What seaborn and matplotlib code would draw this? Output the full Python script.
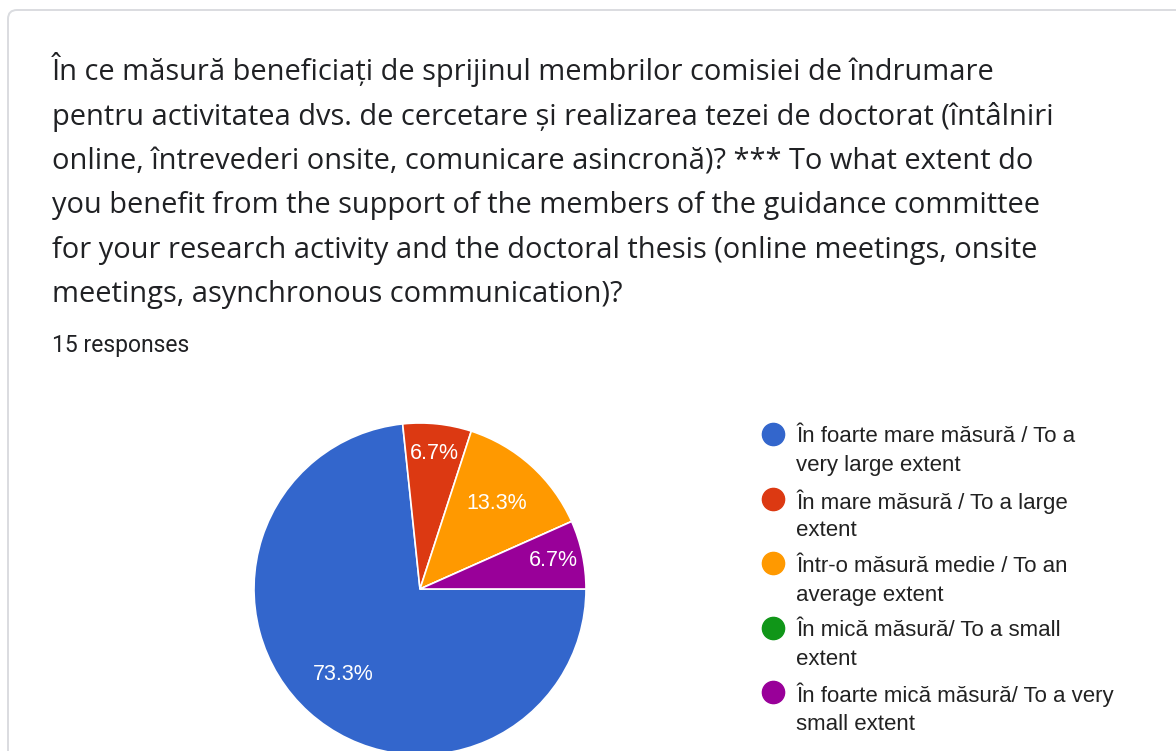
import matplotlib
matplotlib.use('Agg')
import matplotlib.pyplot as plt
import seaborn as sns
import numpy as np
from matplotlib.patches import FancyBboxPatch
from matplotlib.lines import Line2D
from matplotlib.transforms import IdentityTransform

# Date
title_lines = [
    'În ce măsură beneficiați de sprijinul membrilor comisiei de îndrumare',
    'pentru activitatea dvs. de cercetare și realizarea tezei de doctorat (întâlniri',
    'online, întrevederi onsite, comunicare asincronă)? *** To what extent do',
    'you benefit from the support of the members of the guidance committee',
    'for your research activity and the doctoral thesis (online meetings, onsite',
    'meetings, asynchronous communication)?',
]
responses_text = '15 responses'
categories = [
    'În foarte mare măsură / To a\nvery large extent',
    'În mare măsură / To a large\nextent',
    'Într-o măsură medie / To an\naverage extent',
    'În mică măsură/ To a small\nextent',
    'În foarte mică măsură/ To a very\nsmall extent',
]
counts = [11, 1, 2, 0, 1]
colors = ['#3366CC', '#DC3912', '#FF9900', '#109618', '#990099']

sns.set_theme(style='white')
plt.rcParams['font.family'] = ['Liberation Sans', 'DejaVu Sans']

W, H = 1176, 751
fig = plt.figure(figsize=(W / 100, H / 100), dpi=100)
fig.patch.set_facecolor('white')

# Card
card = FancyBboxPatch((8, -40), 1200, H - 10 + 40,
                      boxstyle='round,pad=0,rounding_size=9',
                      transform=IdentityTransform(), facecolor='white',
                      edgecolor='#dadce0', linewidth=1.4, zorder=-5)
fig.add_artist(card)

# Titlu
for i, line in enumerate(title_lines):
    fig.text(52 / W, 1 - (80 + i * 44.5) / H, line, fontsize=20.9,
             family=['Open Sans', 'DejaVu Sans'], color='#202124', va='baseline')
fig.text(52 / W, 1 - 352 / H, responses_text, fontsize=16.5,
         family=['Roboto', 'DejaVu Sans'], color='#202124', va='baseline')

# Plăcinta
cx, cy, r = 420, 589, 166
ax = fig.add_axes([(cx - r) / W, (H - cy - r) / H, 2 * r / W, 2 * r / H])
pal = sns.color_palette(colors)
total = sum(counts)
wedges, texts, autotexts = ax.pie(
    counts, colors=pal, startangle=0, counterclock=False,
    autopct=lambda p: f'{p:.1f}%' if p > 0 else '', pctdistance=0.69,
    wedgeprops=dict(edgecolor='white', linewidth=1.2),
    textprops=dict(color='white', fontsize=15.5))
for w, t, c in zip(wedges, autotexts, counts):
    if c == 0:
        continue
    if c / total < 0.1:
        # etichetele feliilor mici stau mai aproape de margine
        ang = np.deg2rad((w.theta1 + w.theta2) / 2)
        t.set_position((0.82 * np.cos(ang), 0.82 * np.sin(ang)))
ax.set_xlim(-1, 1)
ax.set_ylim(-1, 1)
ax.set_aspect('equal')
ax.axis('off')

# Legenda
for i, (lab, col) in enumerate(zip(categories, colors)):
    y = 434 + i * 64.5
    fig.add_artist(Line2D([773 / W], [1 - y / H], marker='o', markersize=16,
                          color=col, transform=fig.transFigure))
    for j, part in enumerate(lab.split('\n')):
        fig.text(796 / W, 1 - (y + 3 + j * 29) / H, part, fontsize=16,
                 color='#222222', va='center')

plt.savefig('out.png', dpi=100)
